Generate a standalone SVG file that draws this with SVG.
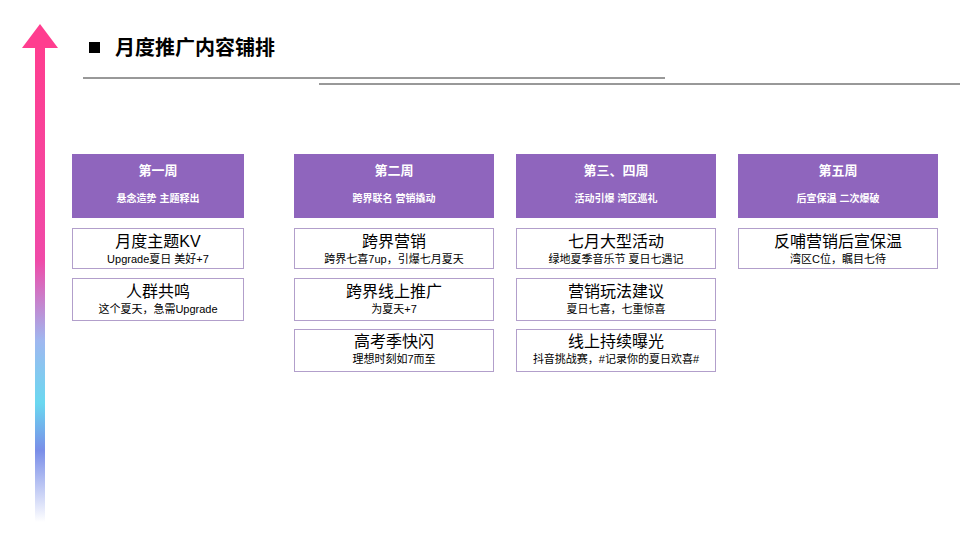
<svg xmlns="http://www.w3.org/2000/svg" width="960" height="540" viewBox="0 0 960 540">
<style>
text{font-family:"Liberation Sans","Noto Sans CJK SC",sans-serif;text-anchor:middle}
.h{fill:#8f65bd}
.b{fill:#fff;stroke:#b29fcb;stroke-width:1}
.ht{fill:#fff;font-weight:bold;font-size:13px}
.hs{fill:#fff;font-weight:bold;font-size:10px}
.t{font-size:16px;fill:#000}
.s{font-size:11px;fill:#000}
</style>
<defs>
<linearGradient id="g" x1="0" y1="0" x2="0" y2="1">
<stop offset="0" stop-color="#ff3d8f"/>
<stop offset="0.45" stop-color="#f04aa8"/>
<stop offset="0.62" stop-color="#9fb8f0"/>
<stop offset="0.75" stop-color="#6ad8f0"/>
<stop offset="0.85" stop-color="#7a8ee8"/>
<stop offset="1" stop-color="#ffffff"/>
</linearGradient>
</defs>
<g id="arrow">
<rect x="35" y="46" width="10" height="476" fill="url(#g)"/>
<polygon points="40,24 58,48 22,48" fill="#ff3d8f"/>
</g>
<g id="title">
<rect x="89" y="42" width="11" height="11" fill="#000"/>
<text x="115" y="55" style="font-size:20px;text-anchor:start;font-weight:bold">月度推广内容铺排</text>
<line x1="83" y1="78" x2="665" y2="78" stroke="#333" stroke-width="1"/>
<line x1="319" y1="84" x2="960" y2="84" stroke="#333" stroke-width="1"/>
</g>
<g id="w1">
<rect class="h" x="72" y="154" width="172" height="64"/>
<text class="ht" x="158" y="175">第一周</text><text class="hs" x="158" y="202">悬念造势 主题释出</text>
<rect class="b" x="72.5" y="228.5" width="171" height="40"/>
<text class="t" x="158" y="247">月度主题KV</text><text class="s" x="158" y="263">Upgrade夏日 美好+7</text>
<rect class="b" x="72.5" y="278.5" width="171" height="42"/>
<text class="t" x="158" y="297">人群共鸣</text><text class="s" x="158" y="313">这个夏天，急需Upgrade</text>
</g>
<g id="w2">
<rect class="h" x="294" y="154" width="200" height="64"/>
<text class="ht" x="394" y="175">第二周</text><text class="hs" x="394" y="202">跨界联名 营销撬动</text>
<rect class="b" x="294.5" y="228.5" width="199" height="40"/>
<text class="t" x="394" y="247">跨界营销</text><text class="s" x="394" y="263">跨界七喜7up，引爆七月夏天</text>
<rect class="b" x="294.5" y="278.5" width="199" height="42"/>
<text class="t" x="394" y="297">跨界线上推广</text><text class="s" x="394" y="313">为夏天+7</text>
<rect class="b" x="294.5" y="329.5" width="199" height="42"/>
<text class="t" x="394" y="347">高考季快闪</text><text class="s" x="394" y="363">理想时刻如7而至</text>
</g>
<g id="w3">
<rect class="h" x="516" y="154" width="200" height="64"/>
<text class="ht" x="616" y="175">第三、四周</text><text class="hs" x="616" y="202">活动引爆 湾区巡礼</text>
<rect class="b" x="516.5" y="228.5" width="199" height="40"/>
<text class="t" x="616" y="247">七月大型活动</text><text class="s" x="616" y="263">绿地夏季音乐节 夏日七遇记</text>
<rect class="b" x="516.5" y="278.5" width="199" height="42"/>
<text class="t" x="616" y="297">营销玩法建议</text><text class="s" x="616" y="313">夏日七喜，七重惊喜</text>
<rect class="b" x="516.5" y="329.5" width="199" height="42"/>
<text class="t" x="616" y="347">线上持续曝光</text><text class="s" x="616" y="363">抖音挑战赛，#记录你的夏日欢喜#</text>
</g>
<g id="w4">
<rect class="h" x="738" y="154" width="200" height="64"/>
<text class="ht" x="838" y="175">第五周</text><text class="hs" x="838" y="202">后宣保温 二次爆破</text>
<rect class="b" x="738.5" y="228.5" width="199" height="40"/>
<text class="t" x="838" y="247">反哺营销后宣保温</text><text class="s" x="838" y="263">湾区C位，瞩目七待</text>
</g>
<g id="connectors"/>
</svg>
